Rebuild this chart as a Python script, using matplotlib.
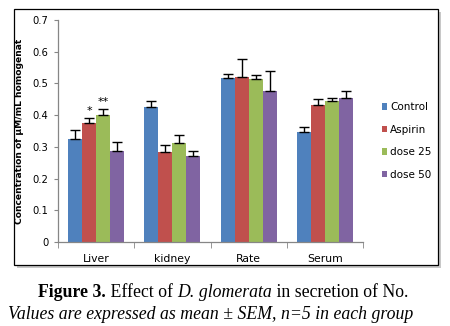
import matplotlib
matplotlib.use("Agg")
import matplotlib.pyplot as plt
import numpy as np
from matplotlib.patches import Rectangle

categories = ["Liver", "kidney", "Rate", "Serum"]
series = ["Control", "Aspirin", "dose 25", "dose 50"]
values = {
    "Control": [0.324, 0.426, 0.517, 0.347],
    "Aspirin": [0.375, 0.284, 0.520, 0.432],
    "dose 25": [0.401, 0.312, 0.514, 0.445],
    "dose 50": [0.287, 0.271, 0.476, 0.454],
}
errors = {
    "Control": [0.029, 0.019, 0.013, 0.015],
    "Aspirin": [0.016, 0.021, 0.056, 0.018],
    "dose 25": [0.019, 0.025, 0.012, 0.008],
    "dose 50": [0.028, 0.016, 0.063, 0.022],
}
colors = ["#4F81BD", "#C0504D", "#9BBB59", "#8064A2"]
stars = {("Aspirin", 0): "*", ("dose 25", 0): "**"}
yticks = [0, 0.1, 0.2, 0.3, 0.4, 0.5, 0.6, 0.7]

W, H = 450, 326
fig = plt.figure(figsize=(W / 100, H / 100), dpi=100)

# chart frame with shadow
fig.patches.append(Rectangle(((14 + 3) / W, 1 - (265 + 3) / H), 424 / W, 256 / H,
                             transform=fig.transFigure, facecolor="#c8c8c8",
                             edgecolor="none", zorder=0))
fig.patches.append(Rectangle((14 / W, 1 - 265 / H), 424 / W, 256 / H,
                             transform=fig.transFigure, facecolor="white",
                             edgecolor="black", linewidth=0.9, zorder=1))

ax = fig.add_axes([58 / W, 84 / H, 305 / W, 222 / H])
ax.set_zorder(2)
ax.patch.set_alpha(0)

n = len(series)
x = np.arange(len(categories))
bw = 0.184
for i, s in enumerate(series):
    pos = x + (i - (n - 1) / 2) * bw
    ax.bar(pos, values[s], width=bw, color=colors[i], label=s, zorder=2)
    ax.errorbar(pos, values[s], yerr=[np.zeros(len(categories)), errors[s]],
                fmt="none", ecolor="black", elinewidth=1.0, capsize=3.5,
                capthick=1.0, zorder=3)
    for j in range(len(categories)):
        if (s, j) in stars:
            ax.text(pos[j], values[s][j] + errors[s][j] + 0.006, stars[(s, j)],
                    ha="center", va="bottom", fontsize=8, zorder=4)

ax.set_xlim(-0.5, len(categories) - 0.5)
ax.set_ylim(0, 0.7)
ax.set_yticks(yticks)
ax.set_yticklabels([f"{t:g}" for t in yticks])
ax.set_xticks(x)
ax.set_xticklabels(categories)
ax.set_xticks(np.arange(len(categories) + 1) - 0.5, minor=True)
ax.tick_params(axis="x", which="major", length=0, pad=9, labelsize=7.8)
ax.tick_params(axis="x", which="minor", length=4, color="#868686", direction="out")
ax.tick_params(axis="y", length=3, color="#868686", labelsize=7.2, pad=4)
for side in ["top", "right"]:
    ax.spines[side].set_visible(False)
for side in ["left", "bottom"]:
    ax.spines[side].set_color("#868686")
    ax.spines[side].set_linewidth(0.9)
ax.set_ylabel("Concentration of µM/mL homogenat", fontsize=6.6, fontweight="bold",
              labelpad=6)

leg = ax.legend(loc="center left", bbox_to_anchor=(1.03, 0.455), frameon=False,
                fontsize=7.5, handlelength=0.55, handleheight=0.55, handletextpad=0.3,
                labelspacing=1.2)

# caption
fig.canvas.draw()
renderer = fig.canvas.get_renderer()

def draw_line(pieces, y, xc):
    texts = []
    widths = []
    for s, kw in pieces:
        t = fig.text(0, y, s, fontsize=12.8, family="Liberation Serif", va="baseline", **kw)
        bb = t.get_window_extent(renderer)
        texts.append(t)
        widths.append(bb.width)
    total = sum(widths)
    cur = xc - total / 2
    for t, w in zip(texts, widths):
        t.set_x(cur / W)
        cur += w

draw_line([("Figure 3.", dict(fontweight="bold")),
           (" Effect of ", {}),
           ("D. glomerata", dict(style="italic")),
           (" in secretion of No.", {})], 1 - 297 / H, xc=223)
draw_line([("Values are expressed as mean ± SEM, n=5 in each group",
            dict(style="italic"))], 1 - 319 / H, xc=211)

fig.savefig("out.png", dpi=100)
